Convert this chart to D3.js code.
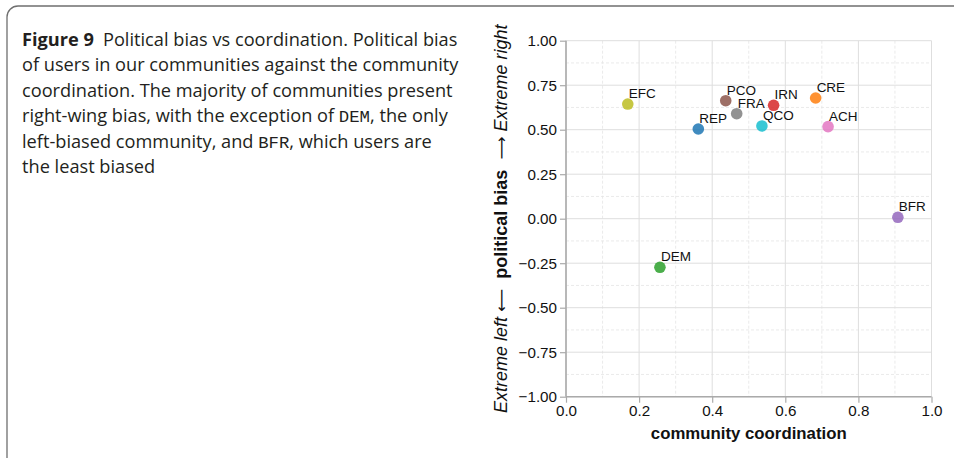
<!DOCTYPE html>
<html>
<head>
<meta charset="utf-8">
<script src="https://cdn.jsdelivr.net/npm/d3@7"></script>
<style>
  html, body { margin: 0; padding: 0; background: #fff; }
  svg { display: block; }
</style>
</head>
<body>
<svg id="fig" width="954" height="458"></svg>
<script>
// Communities: coordination score (x) vs mean political bias of their users (y)
const communities = ["EFC", "REP", "PCO", "FRA", "IRN", "QCO", "CRE", "ACH", "BFR", "DEM"];
const coordination = [0.169, 0.362, 0.437, 0.467, 0.568, 0.536, 0.683, 0.717, 0.908, 0.257];
const politicalBias = [0.644, 0.504, 0.663, 0.590, 0.637, 0.521, 0.678, 0.517, 0.008, -0.273];
const pointColors = ["#bcbd22", "#1f77b4", "#8c564b", "#7f7f7f", "#d62728", "#17becf", "#ff7f0e", "#e377c2", "#9467bd", "#2ca02c"];

const xTicks = [0.0, 0.2, 0.4, 0.6, 0.8, 1.0];
const xMinorTicks = [0.1, 0.3, 0.5, 0.7, 0.9];
const yTicks = [-1.0, -0.75, -0.5, -0.25, 0.0, 0.25, 0.5, 0.75, 1.0];
const yMinorTicks = [-0.875, -0.625, -0.375, -0.125, 0.125, 0.375, 0.625, 0.875];

const captionLines = [
  [["b", "Figure 9"], ["r", "\u2002Political bias vs coordination. Political bias"]],
  [["r", "of users in our communities against the community"]],
  [["r", "coordination. The majority of communities present"]],
  [["r", "right-wing bias, with the exception of "], ["m", "DEM"], ["r", ", the only"]],
  [["r", "left-biased community, and "], ["m", "BFR"], ["r", ", which users are"]],
  [["r", "the least biased"]]
];

const svg = d3.select("#fig");

// caption frame (rounded box running off the right and bottom edges)
svg.append("rect")
  .attr("x", 7).attr("y", 6)
  .attr("width", 1000).attr("height", 470)
  .attr("rx", 11).attr("ry", 11)
  .attr("fill", "none")
  .attr("stroke", "#6f6f6f")
  .attr("stroke-width", 1.3);

// caption text
const capFont = "'Open Sans', 'Noto Sans', sans-serif";
const caption = svg.append("g");
const capSize = 18.2;
captionLines.forEach((parts, i) => {
  const t = caption.append("text")
    .attr("x", 22)
    .attr("y", 46 + i * 25.4)
    .attr("font-family", capFont)
    .attr("font-size", capSize)
    .attr("fill", "#231f20");
  parts.forEach(([kind, str]) => {
    const s = t.append("tspan").text(str);
    if (kind === "b") s.attr("font-weight", "bold");
    if (kind === "m") s.attr("font-family", "'Liberation Mono', 'DejaVu Sans Mono', monospace").attr("font-size", capSize * 0.95);
  });
});

// plot area
const plotLeft = 566, plotRight = 931.5, plotTop = 40.7, plotBottom = 396.7;
const x = d3.scaleLinear().domain([0, 1]).range([plotLeft, plotRight]);
const y = d3.scaleLinear().domain([-1, 1]).range([plotBottom, plotTop]);

const plot = svg.append("g");
const axisFont = "'Liberation Sans', Arial, sans-serif";

// minor grid (dashed)
plot.append("g").selectAll("line").data(xMinorTicks).join("line")
  .attr("x1", d => x(d)).attr("x2", d => x(d))
  .attr("y1", plotTop).attr("y2", plotBottom)
  .attr("stroke", "#e4e4e4").attr("stroke-width", 0.8).attr("stroke-dasharray", "3,2");
plot.append("g").selectAll("line").data(yMinorTicks).join("line")
  .attr("x1", plotLeft).attr("x2", plotRight)
  .attr("y1", d => y(d)).attr("y2", d => y(d))
  .attr("stroke", "#e4e4e4").attr("stroke-width", 0.8).attr("stroke-dasharray", "3,2");

// major grid (solid)
plot.append("g").selectAll("line").data(xTicks).join("line")
  .attr("x1", d => x(d)).attr("x2", d => x(d))
  .attr("y1", plotTop).attr("y2", plotBottom)
  .attr("stroke", "#dedede").attr("stroke-width", 1);
plot.append("g").selectAll("line").data(yTicks).join("line")
  .attr("x1", plotLeft).attr("x2", plotRight)
  .attr("y1", d => y(d)).attr("y2", d => y(d))
  .attr("stroke", "#dedede").attr("stroke-width", 1);

// axes
const fmtY = v => (v < 0 ? "\u2212" : "") + Math.abs(v).toFixed(2);
const xAxis = d3.axisBottom(x).tickValues(xTicks).tickFormat(d3.format(".1f")).tickSize(6).tickPadding(3);
const yAxis = d3.axisLeft(y).tickValues(yTicks).tickFormat(fmtY).tickSize(6).tickPadding(3);

const gx = plot.append("g").attr("transform", `translate(0,${plotBottom})`).call(xAxis);
const gy = plot.append("g").attr("transform", `translate(${plotLeft},0)`).call(yAxis);
[gx, gy].forEach(g => {
  g.select(".domain").attr("stroke", "#aaaaaa").attr("stroke-width", 1.6);
  g.selectAll(".tick line").attr("stroke", "#aaaaaa").attr("stroke-width", 1.2);
  g.selectAll(".tick text")
    .attr("font-family", axisFont).attr("font-size", 15.2).attr("fill", "#111");
});
gx.select(".domain").attr("d", `M${plotLeft},0H${plotRight}`);
gy.select(".domain").attr("d", `M0,${plotBottom}V${plotTop}`);

// points
const data = communities.map((c, i) => ({ name: c, cx: coordination[i], by: politicalBias[i], color: pointColors[i] }));
plot.append("g").selectAll("circle").data(data).join("circle")
  .attr("cx", d => x(d.cx)).attr("cy", d => y(d.by))
  .attr("r", 5.8)
  .attr("fill", d => d.color)
  .attr("fill-opacity", 0.85);

// point labels
plot.append("g").selectAll("text").data(data).join("text")
  .attr("x", d => x(d.cx) + 1)
  .attr("y", d => y(d.by) - 6)
  .attr("font-family", axisFont)
  .attr("font-size", 13.5)
  .attr("fill", "#111")
  .text(d => d.name);

// axis titles
svg.append("text")
  .attr("x", (plotLeft + plotRight) / 2)
  .attr("y", 439)
  .attr("text-anchor", "middle")
  .attr("font-family", axisFont)
  .attr("font-size", 16.8)
  .attr("font-weight", "bold")
  .attr("fill", "#111")
  .text("community coordination");

const yt = svg.append("text")
  .attr("transform", `translate(507,${(plotTop + plotBottom) / 2}) rotate(-90)`)
  .attr("text-anchor", "middle")
  .attr("font-family", axisFont)
  .attr("font-size", 18)
  .attr("fill", "#111");
yt.append("tspan").attr("font-style", "italic").text("Extreme left");
yt.append("tspan").attr("font-family", "'DejaVu Sans', sans-serif").attr("font-size", 16).text("\u00a0\u27F5\u00a0\u00a0");
yt.append("tspan").attr("font-weight", "bold").text("political bias");
yt.append("tspan").attr("font-family", "'DejaVu Sans', sans-serif").attr("font-size", 16).text("\u00a0\u00a0\u27F6\u00a0");
yt.append("tspan").attr("font-style", "italic").text("Extreme right");
</script>
</body>
</html>
